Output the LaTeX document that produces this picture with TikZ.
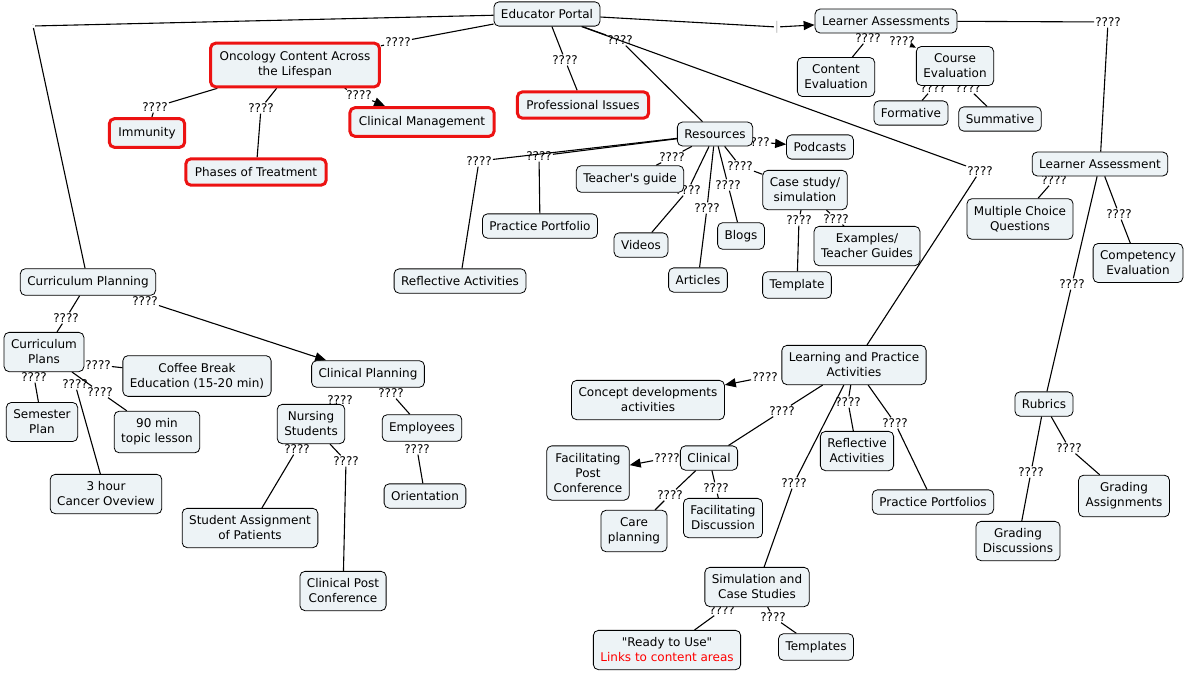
\documentclass[tikz,border=0pt]{standalone}
\usepackage{fontspec}
\setmainfont{DejaVu Sans}[Ligatures=TeXOff]
\usetikzlibrary{arrows.meta,backgrounds}
\definecolor{boxfill}{RGB}{237,243,246}
\definecolor{hotred}{RGB}{236,18,18}
\tikzset{
  concept/.style={draw=black, fill=boxfill, rounded corners=5pt, line width=0.8pt,
    align=center, inner xsep=7pt, inner ysep=7.5pt, font=\fontsize{12}{15}\selectfont},
  hot/.style={concept, draw=hotred, line width=3pt, inner xsep=9pt, inner ysep=8.5pt},
  link/.style={inner sep=1pt, font=\fontsize{12}{14}\selectfont},
  tip/.style={-{Triangle[length=11pt,width=9pt]}},
  every edge/.append style={line width=1.1pt, draw=black},
}
\begin{document}
\begin{tikzpicture}[x=1pt, y=-1pt]
    \useasboundingbox (0,0) rectangle (1185,673);

    %linking phrases
    \node[link, font=\tiny, text=black!40] (lEPcp) at (33,26) {-};
    \node[link] (lEPoc) at (398,42) {????};
    \node[link] (lEPpi) at (565,60) {????};
    \node[link] (lEPres) at (620,40) {????};
    \node[link] (lEPlp) at (980,171) {????};
    \node[link, text=black!25] (lEPla) at (777,27) {|};
    \node[link] (lLAla) at (1108,22) {????};
    \node[link] (lLAce) at (868,38) {????};
    \node[link] (lLAco) at (902,41) {????};
    \node[link] (lCOfo) at (933,88) {????};
    \node[link] (lCOsu) at (968,88) {????};
    \node[link] (lOCim) at (155,107) {????};
    \node[link] (lOCph) at (261,108) {????};
    \node[link] (lOCcm) at (359,95) {????};
    \node[link] (lRpo) at (757,142) {????};
    \node[link] (lRtg) at (672,157) {????};
    \node[link] (lRvi) at (688,190) {????};
    \node[link] (lRar) at (707,208) {????};
    \node[link] (lRbl) at (728,185) {????};
    \node[link] (lRcs) at (740,166) {????};
    \node[link] (lRra) at (479,161) {????};
    \node[link] (lRpp) at (539,156) {????};
    \node[link] (lCSte) at (799,220) {????};
    \node[link] (lCSex) at (836,219) {????};
    \node[link] (lLAmc) at (1054,180) {????};
    \node[link] (lLAcv) at (1119,214) {????};
    \node[link] (lLAru) at (1072,284) {????};
    \node[link] (lRUgd) at (1031,472) {????};
    \node[link] (lRUga) at (1069,448) {????};
    \node[link] (lCPpl) at (66,318) {????};
    \node[link] (lCPcl) at (145,301) {????};
    \node[link] (lPLco) at (98,365) {????};
    \node[link] (lPLse) at (34,377) {????};
    \node[link] (lPLth) at (75,384) {????};
    \node[link] (lPLnm) at (100,392) {????};
    \node[link] (lCLns) at (340,400) {????};
    \node[link] (lCLem) at (391,393) {????};
    \node[link] (lNSsa) at (297,449) {????};
    \node[link] (lNScc) at (346,461) {????};
    \node[link] (lEMor) at (417,449) {????};
    \node[link] (lLPcd) at (765,377) {????};
    \node[link] (lLPci) at (782,411) {????};
    \node[link] (lLPrb) at (848,402) {????};
    \node[link] (lLPpp) at (895,423) {????};
    \node[link] (lLPsi) at (794,483) {????};
    \node[link] (lCIfp) at (667,458) {????};
    \node[link] (lCIca) at (670,495) {????};
    \node[link] (lCIfd) at (716,488) {????};
    \node[link] (lSIre) at (722,610) {????};
    \node[link] (lSIts) at (773,617) {????};

    %portal and content
    \node[concept] (EP) at (547,14) {Educator Portal};
    \node[hot] (OC) at (295,65) {Oncology Content Across\\the Lifespan};
    \node[hot] (IM) at (147,133) {Immunity};
    \node[hot] (PT) at (256,172) {Phases of Treatment};
    \node[hot] (CM) at (422,122) {Clinical Management};
    \node[hot] (PI) at (583,105) {Professional Issues};

    %resources
    \node[concept] (RS) at (715,134) {Resources};
    \node[concept] (PC) at (820,147) {Podcasts};
    \node[concept] (TG) at (630,179) {Teacher's guide};
    \node[concept] (CS) at (805,190) {Case study/\\simulation};
    \node[concept] (PF) at (540,226) {Practice Portfolio};
    \node[concept] (VI) at (641,245) {Videos};
    \node[concept] (BL) at (741,236) {Blogs};
    \node[concept] (EX) at (867,246) {Examples/\\Teacher Guides};
    \node[concept] (AR) at (698,280) {Articles};
    \node[concept] (TM) at (797,285) {Template};
    \node[concept] (RA) at (460,281) {Reflective Activities};

    %assessment
    \node[concept] (LAs) at (886,21) {Learner Assessments};
    \node[concept] (CE) at (836,77) {Content\\Evaluation};
    \node[concept] (CO) at (955,66) {Course\\Evaluation};
    \node[concept] (FO) at (911,113) {Formative};
    \node[concept] (SU) at (1000,119) {Summative};
    \node[concept] (LA) at (1100,164) {Learner Assessment};
    \node[concept] (MC) at (1020,219) {Multiple Choice\\Questions};
    \node[concept] (CV) at (1138,263) {Competency\\Evaluation};
    \node[concept] (RU) at (1044,404) {Rubrics};
    \node[concept] (GD) at (1018,541) {Grading\\Discussions};
    \node[concept] (GA) at (1124,496) {Grading\\Assignments};

    %curriculum
    \node[concept] (CPn) at (88,282) {Curriculum Planning};
    \node[concept] (PL) at (44,352) {Curriculum\\Plans};
    \node[concept] (CB) at (197,376) {Coffee Break\\Education (15-20 min)};
    \node[concept] (SP) at (42,422) {Semester\\Plan};
    \node[concept] (NM) at (157,432) {90 min\\topic lesson};
    \node[concept] (TH) at (106,494) {3 hour\\Cancer Oveview};
    \node[concept] (CL) at (368,374) {Clinical Planning};
    \node[concept] (NS) at (311,424) {Nursing\\Students};
    \node[concept] (EM) at (422,428) {Employees};
    \node[concept] (OR) at (425,496) {Orientation};
    \node[concept] (SA) at (250,528) {Student Assignment\\of Patients};
    \node[concept] (CC) at (343,591) {Clinical Post\\Conference};

    %learning and practice
    \node[concept] (LP) at (854,365) {Learning and Practice\\Activities};
    \node[concept] (CD) at (648,400) {Concept developments\\activities};
    \node[concept] (CI) at (709,458) {Clinical};
    \node[concept] (FP) at (588,473) {Facilitating\\Post\\Conference};
    \node[concept] (RB) at (857,451) {Reflective\\Activities};
    \node[concept] (PP) at (933,502) {Practice Portfolios};
    \node[concept] (CA) at (634,531) {Care\\planning};
    \node[concept] (FD) at (723,518) {Facilitating\\Discussion};
    \node[concept] (SI) at (757,587) {Simulation and\\Case Studies};
    \node[concept] (RE) at (667,650) {"Ready to Use"\\\textcolor{red}{Links to content areas}};
    \node[concept] (TS) at (816,647) {Templates};

    \begin{pgfonlayer}{background}
    %portal
    \path [-] (EP) edge (lEPcp);
    \path [-] (lEPcp) edge (CPn);
    \path [-] (EP) edge (lEPoc);
    \path [-] (lEPoc) edge (OC);
    \path [-] (EP) edge (lEPpi);
    \path [-] (lEPpi) edge (PI);
    \path [-] (EP) edge (lEPres);
    \path [-] (lEPres) edge (RS);
    \path [-] (EP) edge (lEPlp);
    \path [-] (lEPlp) edge (LP);
    \path [-] (EP) edge (lEPla);
    \path [tip] (lEPla) edge (LAs);

    %content
    \path [-] (OC) edge (lOCim);
    \path [-] (lOCim) edge (IM);
    \path [-] (OC) edge (lOCph);
    \path [-] (lOCph) edge (PT);
    \path [-] (OC) edge (lOCcm);
    \path [tip] (lOCcm) edge (CM);

    %resources
    \path [tip] (lRpo) edge (PC);
    \path [-] (RS) edge (lRtg);
    \path [-] (lRtg) edge (TG);
    \path [-] (RS) edge (lRvi);
    \path [-] (lRvi) edge (VI);
    \path [-] (RS) edge (lRar);
    \path [-] (lRar) edge (AR);
    \path [-] (RS) edge (lRbl);
    \path [-] (lRbl) edge (BL);
    \path [-] (RS) edge (lRcs);
    \path [-] (lRcs) edge (CS);
    \path [-] (RS) edge (lRra);
    \path [-] (lRra) edge (RA);
    \path [-] (RS) edge (lRpp);
    \path [-] (lRpp) edge (PF);
    \path [-] (CS) edge (lCSte);
    \path [-] (lCSte) edge (TM);
    \path [-] (CS) edge (lCSex);
    \path [-] (lCSex) edge (EX);

    %assessment
    \path [-] (LAs) edge (lLAla);
    \path [-] (lLAla) edge (LA);
    \path [-] (lLAce) edge (CE);
    \path [-{Triangle[length=6pt,width=5pt]}] (lLAco) edge (CO);
    \path [-] (lCOfo) edge (FO);
    \path [-] (lCOsu) edge (SU);
    \path [-] (lLAmc) edge (MC);
    \path [-] (LA) edge (lLAcv);
    \path [-] (lLAcv) edge (CV);
    \path [-] (LA) edge (lLAru);
    \path [-] (lLAru) edge (RU);
    \path [-] (RU) edge (lRUgd);
    \path [-] (lRUgd) edge (GD);
    \path [-] (RU) edge (lRUga);
    \path [-] (lRUga) edge (GA);

    %curriculum
    \path [-] (CPn) edge (lCPpl);
    \path [-] (lCPpl) edge (PL);
    \path [tip] (lCPcl) edge (CL);
    \path [-] (lPLco) edge (CB);
    \path [-] (lPLse) edge (SP);
    \path [-] (lPLth) edge (TH);
    \path [-] (PL) edge (lPLnm);
    \path [-] (lPLnm) edge (NM);
    \path [-] (lCLns) edge (NS);
    \path [-] (CL) edge (lCLem);
    \path [-] (lCLem) edge (EM);
    \path [-] (lNSsa) edge (SA);
    \path [-] (NS) edge (lNScc);
    \path [-] (lNScc) edge (CC);
    \path [-] (lEMor) edge (OR);

    %learning and practice
    \path [tip] (lLPcd) edge (CD);
    \path [-] (LP) edge (lLPci);
    \path [-] (lLPci) edge (CI);
    \path [-] (LP) edge (lLPrb);
    \path [-] (lLPrb) edge (RB);
    \path [-] (LP) edge (lLPpp);
    \path [-] (lLPpp) edge (PP);
    \path [-] (LP) edge (lLPsi);
    \path [-] (lLPsi) edge (SI);
    \path [tip] (lCIfp) edge (FP);
    \path [-] (CI) edge (lCIca);
    \path [-] (lCIca) edge (CA);
    \path [-] (CI) edge (lCIfd);
    \path [-] (lCIfd) edge (FD);
    \path [-] (lSIre) edge (RE);
    \path [-] (SI) edge (lSIts);
    \path [-] (lSIts) edge (TS);
    \end{pgfonlayer}
\end{tikzpicture}
\end{document}
